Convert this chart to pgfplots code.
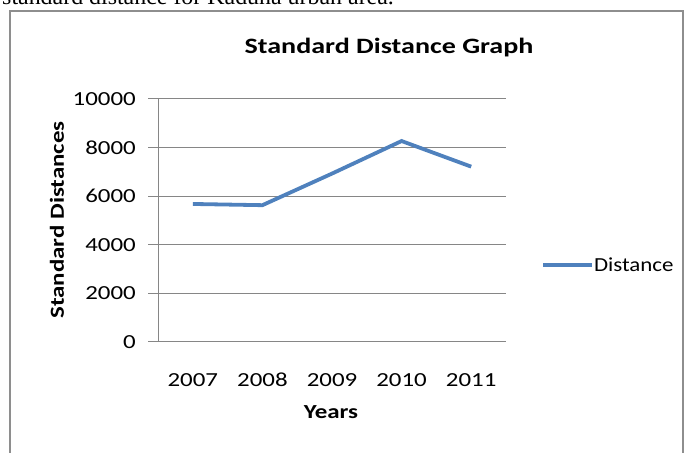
\documentclass[border=0pt]{standalone}
\usepackage{pgfplots}
\pgfplotsset{compat=1.18}
\usepackage{fontspec}
\setmainfont{Carlito}
\newfontfamily\serifcap{Liberation Serif}
\newcommand{\wide}[1]{\scalebox{1.25}[1]{#1}}
\definecolor{exblue}{HTML}{4F81BD}
\definecolor{gridgray}{HTML}{868686}
\definecolor{bordergray}{HTML}{8E8E8E}
\begin{document}
\begin{tikzpicture}[x=1bp,y=1bp]
\useasboundingbox (0,0) rectangle (685,453);
\begin{scope}
\clip (0,0) rectangle (685,453);
\node[anchor=base west, inner sep=0pt, font=\serifcap\fontsize{24}{28}\selectfont] at (2,448) {standard distance for Kaduna urban area.};
\draw[bordergray, line width=2.5bp] (10,-10) -- (10,442) -- (683,442) -- (683,-10);
\end{scope}
\begin{axis}[
  at={(158bp,111bp)}, anchor=south west,
  width=348bp, height=243bp, scale only axis,
  xmin=-0.5, xmax=4.5, ymin=0, ymax=10000,
  scaled y ticks=false,
  xtick={0,1,2,3,4},
  xticklabels={\wide{2007},\wide{2008},\wide{2009},\wide{2010},\wide{2011}},
  ytick={0,2000,4000,6000,8000,10000},
  yticklabels={\wide{0},\wide{2000},\wide{4000},\wide{6000},\wide{8000},\wide{10000}},
  axis x line*=bottom, axis y line*=left,
  axis line style={gridgray, line width=1bp, -},
  ymajorgrids, grid style={gridgray, line width=1bp},
  tick align=outside, major tick length=10bp,
  ytick style={gridgray, line width=1bp},
  xtick style={draw=none},
  ticklabel style={font=\fontsize{20}{24}\selectfont, inner sep=0pt},
  yticklabel style={xshift=-12bp},
  xticklabel style={yshift=-21bp},
  title={\scalebox{1.28}[1]{Standard Distance Graph}},
  title style={at={(axis description cs:0.6638,1.1646)}, anchor=base, font=\bfseries\fontsize{22}{26}\selectfont, inner sep=0pt},
  xlabel={\wide{Years}},
  xlabel style={at={(axis description cs:0.497,-0.288)}, anchor=center, font=\bfseries\fontsize{20}{24}\selectfont, inner sep=0pt},
  ylabel={\wide{Standard Distances}},
  ylabel style={at={(axis description cs:-0.290,0.502)}, anchor=center, rotate=0, font=\bfseries\fontsize{20}{24}\selectfont, inner sep=0pt},
  legend style={at={(axis description cs:1.1006,0.3169)}, anchor=west, draw=none, fill=none, inner sep=0pt, font=\fontsize{20}{24}\selectfont, nodes={inner sep=0pt}, /tikz/every even column/.append style={column sep=3bp}},
  legend cell align=left,
  legend image code/.code={\draw[#1] (0bp,0bp) -- (49bp,0bp);},
]
\addplot[exblue, line width=3.8bp] coordinates {(0,5680) (1,5630) (2,6930) (3,8270) (4,7215)};
\addlegendentry{\scalebox{1.15}[1]{Distance}}
\end{axis}
\end{tikzpicture}
\end{document}
